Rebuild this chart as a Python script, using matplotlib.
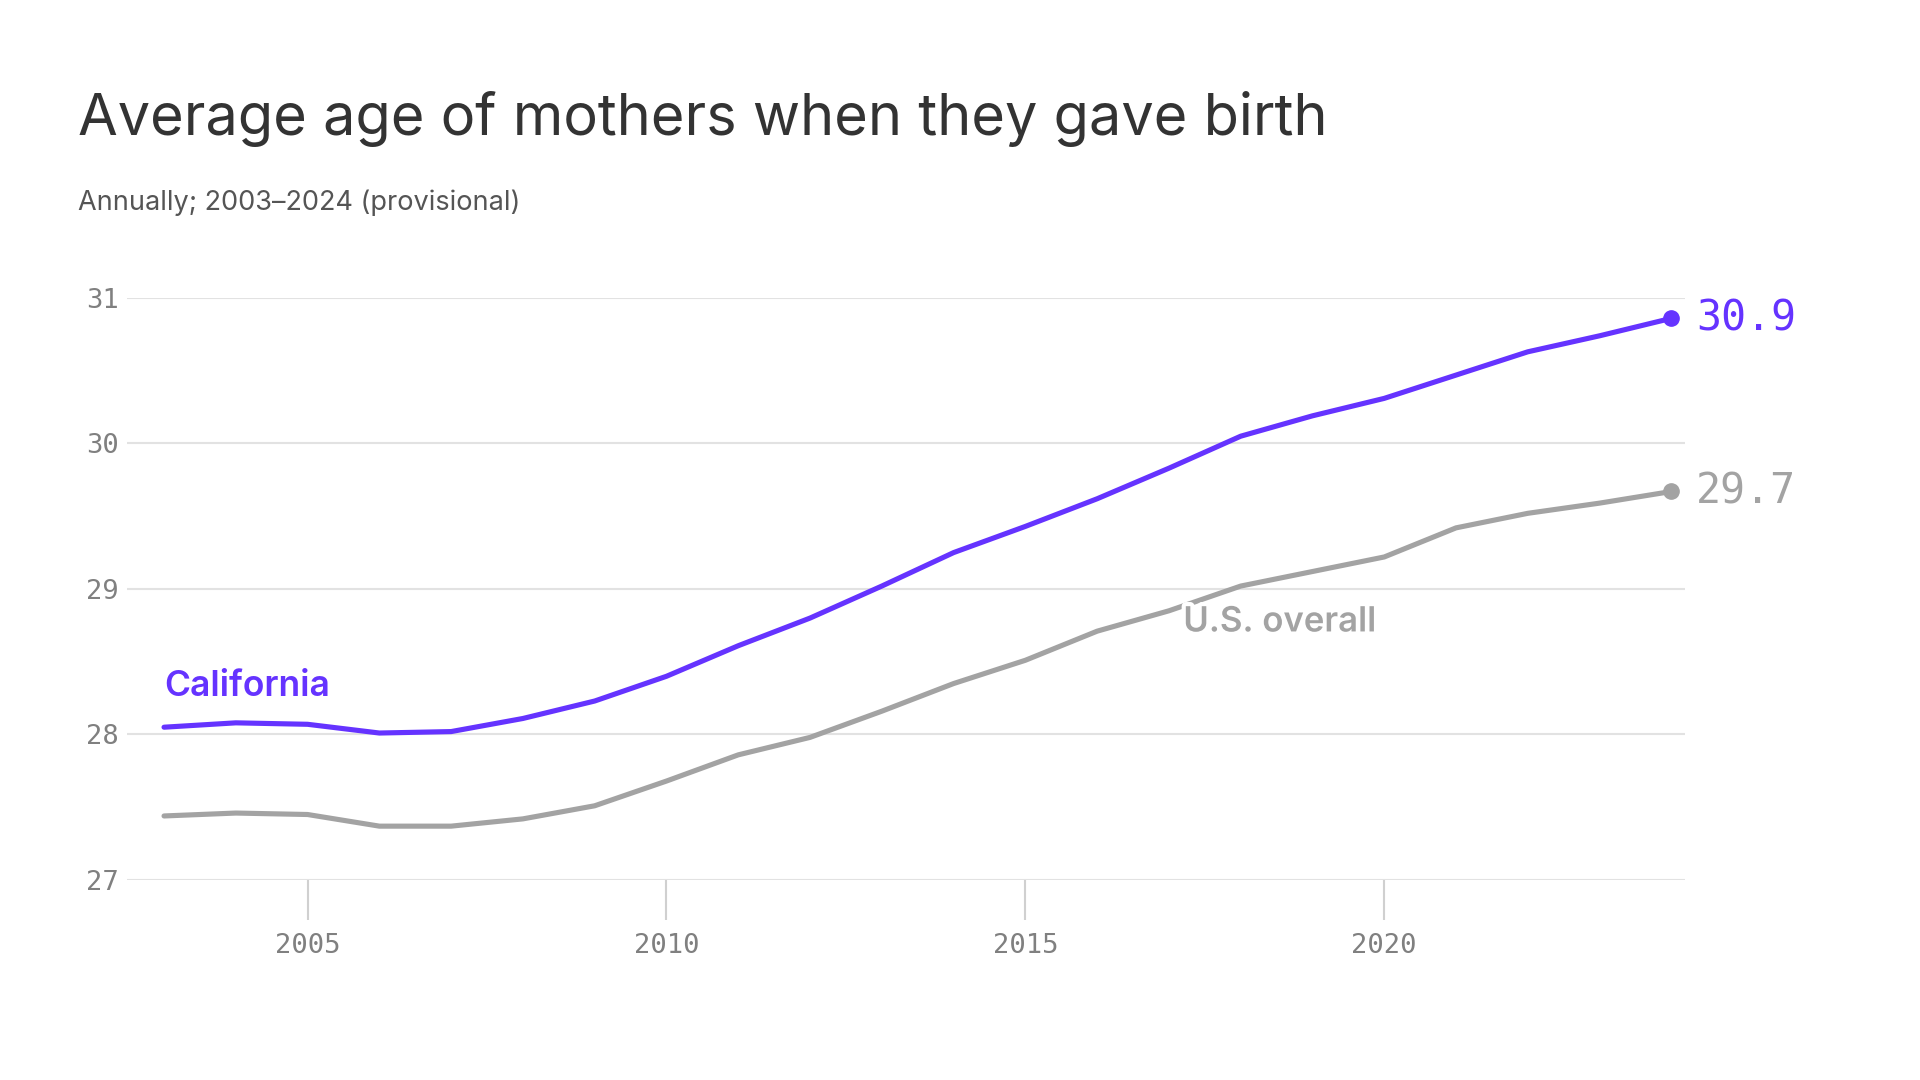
import matplotlib.pyplot as plt
import matplotlib.patheffects as pe

years = list(range(2003, 2025))
california = [28.05, 28.08, 28.07, 28.01, 28.02, 28.11, 28.23, 28.40, 28.61, 28.80, 29.02,
              29.25, 29.43, 29.62, 29.83, 30.05, 30.19, 30.31, 30.47, 30.63, 30.74, 30.86]
us_overall = [27.44, 27.46, 27.45, 27.37, 27.37, 27.42, 27.51, 27.68, 27.86, 27.98, 28.16,
              28.35, 28.51, 28.71, 28.85, 29.02, 29.12, 29.22, 29.42, 29.52, 29.59, 29.67]
end_labels = ["30.9", "29.7"]
y_ticks = [27, 28, 29, 30, 31]
x_ticks = [2005, 2010, 2015, 2020]

PURPLE = "#6533ff"
GRAY = "#a3a3a3"
SANS = ["Inter", "DejaVu Sans"]
MONO = ["DejaVu Sans Mono"]

fig = plt.figure(figsize=(19.2, 10.8), dpi=100)
ax = fig.add_axes([0.066, 0.1852, 0.8116, 0.5389])

ax.plot(years, us_overall, color=GRAY, lw=3.7, solid_capstyle="round", zorder=3)
ax.plot(years, california, color=PURPLE, lw=3.7, solid_capstyle="round", zorder=4)
ax.plot(years[-1], us_overall[-1], "o", color=GRAY, ms=11, clip_on=False, zorder=5)
ax.plot(years[-1], california[-1], "o", color=PURPLE, ms=11, clip_on=False, zorder=5)

ax.set_xlim(2002.48, 2024.19)
ax.set_ylim(27, 31)
ax.set_yticks(y_ticks)
ax.set_xticks(x_ticks)
ax.set_yticklabels([str(v) for v in y_ticks])
ax.set_xticklabels([str(v) for v in x_ticks])

for s in ax.spines.values():
    s.set_visible(False)
ax.grid(axis="y", color="#e2e2e2", lw=1.5, zorder=0)
ax.tick_params(axis="y", length=0, pad=6, labelsize=19.5, labelcolor="#808080")
ax.tick_params(axis="x", direction="out", length=29, width=1.5, color="#d0d0d0", pad=9,
               labelsize=19.5, labelcolor="#808080")
for lab in ax.get_xticklabels() + ax.get_yticklabels():
    lab.set_family(MONO)

# end value labels
ax.annotate(end_labels[0], (years[-1], california[-1]), xytext=(18, 0),
            textcoords="offset points", va="center", ha="left",
            fontsize=30, color=PURPLE, family=MONO, annotation_clip=False)
ax.annotate(end_labels[1], (years[-1], us_overall[-1]), xytext=(18, 0),
            textcoords="offset points", va="center", ha="left",
            fontsize=30, color=GRAY, family=MONO, annotation_clip=False)

# series labels
ax.text(2003, 28.33, "California", color=PURPLE, fontsize=25.5, fontweight="semibold",
        family=SANS, va="center", ha="left")
ax.text(2017.2, 28.77, "U.S. overall", color=GRAY, fontsize=25, fontweight="semibold",
        family=SANS, va="center", ha="left", zorder=6,
        path_effects=[pe.withStroke(linewidth=6, foreground="white")])

fig.text(0.0405, 0.875, "Average age of mothers when they gave birth", fontsize=41.5,
         color="#333333", family=SANS, va="baseline", ha="left")
fig.text(0.0405, 0.806, "Annually; 2003\u20132024 (provisional)", fontsize=19.5,
         color="#555555", family=SANS, va="baseline", ha="left")

fig.savefig("out.png", dpi=100, facecolor="white")
